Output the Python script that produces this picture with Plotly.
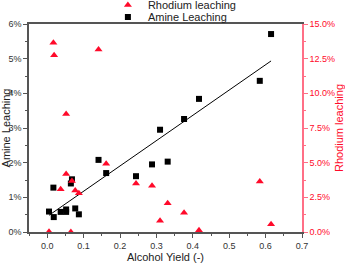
import numpy as np
import plotly.graph_objects as go

# Amine leaching (%), left axis
amine_x = [0.005, 0.017, 0.018, 0.037, 0.052, 0.052, 0.065, 0.068, 0.077, 0.087,
           0.141, 0.162, 0.244, 0.288, 0.310, 0.331, 0.376, 0.417, 0.584, 0.615]
amine_y = [0.59, 1.28, 0.43, 0.58, 0.65, 0.58, 1.40, 1.52, 0.68, 0.51,
           2.08, 1.70, 1.61, 1.95, 2.95, 2.03, 3.26, 3.84, 4.36, 5.71]

# Rhodium leaching (%), right axis
rh_x = [0.017, 0.019, 0.141, 0.052, 0.052, 0.037, 0.068, 0.077, 0.087, 0.162,
        0.005, 0.065, 0.244, 0.288, 0.310, 0.331, 0.376, 0.417, 0.584, 0.615]
rh_y = [13.65, 12.74, 13.17, 8.51, 4.18, 3.08, 3.68, 3.00, 2.79, 4.93,
        0.02, 0.00, 3.49, 3.34, 0.82, 2.07, 1.39, 0.12, 3.65, 0.55]

slope, intercept = np.polyfit(amine_x, amine_y, 1)
fit_x = [min(amine_x), max(amine_x)]
fit_y = [slope * v + intercept for v in fit_x]

RED = "#FF0A2A"
PINK = "#FF6F86"
AX = "#555555"
FONT = "Liberation Sans, Arial, sans-serif"

fig = go.Figure()
fig.add_trace(go.Scatter(x=rh_x, y=rh_y, mode="markers", name="Rhodium leaching",
                         marker=dict(symbol="triangle-up", size=7, color=RED),
                         yaxis="y2", legend="legend"))
fig.add_trace(go.Scatter(x=amine_x, y=amine_y, mode="markers", name="Amine Leaching",
                         marker=dict(symbol="square", size=6, color="#000000"),
                         legend="legend2"))
fig.add_trace(go.Scatter(x=fit_x, y=fit_y, mode="lines", showlegend=False,
                         line=dict(color="#000000", width=1)))

leg_common = dict(xanchor="left", yanchor="middle",
                  font=dict(size=11, color="#222222"), bgcolor="rgba(0,0,0,0)",
                  itemwidth=30)

fig.update_layout(
    width=345, height=268,
    margin=dict(l=29, r=43, t=29, b=31, autoexpand=False),
    paper_bgcolor="white", plot_bgcolor="white",
    font=dict(family=FONT, size=9, color="#333333"),
    showlegend=True,
    legend=dict(x=0.289, y=1.091, **leg_common),
    legend2=dict(x=0.289, y=1.034, **leg_common),
    xaxis=dict(range=[-0.05, 0.7], dtick=0.1, tick0=0, tickformat=".1f",
               showgrid=False, zeroline=False, showline=True, linecolor=AX,
               linewidth=1.5, mirror=True, ticks="outside", ticklen=4,
               tickcolor=AX,
               minor=dict(ticks="outside", dtick=0.05, ticklen=2, tickcolor=AX),
               title=dict(text="Alcohol Yield (-)", font=dict(size=11, color="#222222"),
                          standoff=5)),
    yaxis=dict(range=[0, 6], dtick=1, ticksuffix="%", showgrid=False, zeroline=False,
               showline=True, linecolor=AX, linewidth=1.5, ticks="outside",
               ticklen=4, tickcolor=AX,
               minor=dict(ticks="outside", dtick=0.5, ticklen=2, tickcolor=AX),
               title=dict(text="Amine Leaching", font=dict(size=11, color="#222222"),
                          standoff=2)),
    yaxis2=dict(range=[0, 15], dtick=2.5, tickformat=".1f", ticksuffix="%",
                overlaying="y", side="right", showgrid=False, zeroline=False,
                showline=True, linecolor=PINK, linewidth=1.5, ticks="outside",
                ticklen=4, tickcolor=PINK, tickfont=dict(color=RED),
                minor=dict(ticks="outside", dtick=1.25, ticklen=2, tickcolor=PINK),
                title=dict(text="Rhodium leaching", font=dict(size=11, color=RED),
                           standoff=3)),
)

fig.write_html("out.html", config={"displayModeBar": False},
               post_script="document.body.style.margin='0';"
                           "document.body.style.marginTop='-5px';"
                           "document.body.style.overflow='hidden';")
